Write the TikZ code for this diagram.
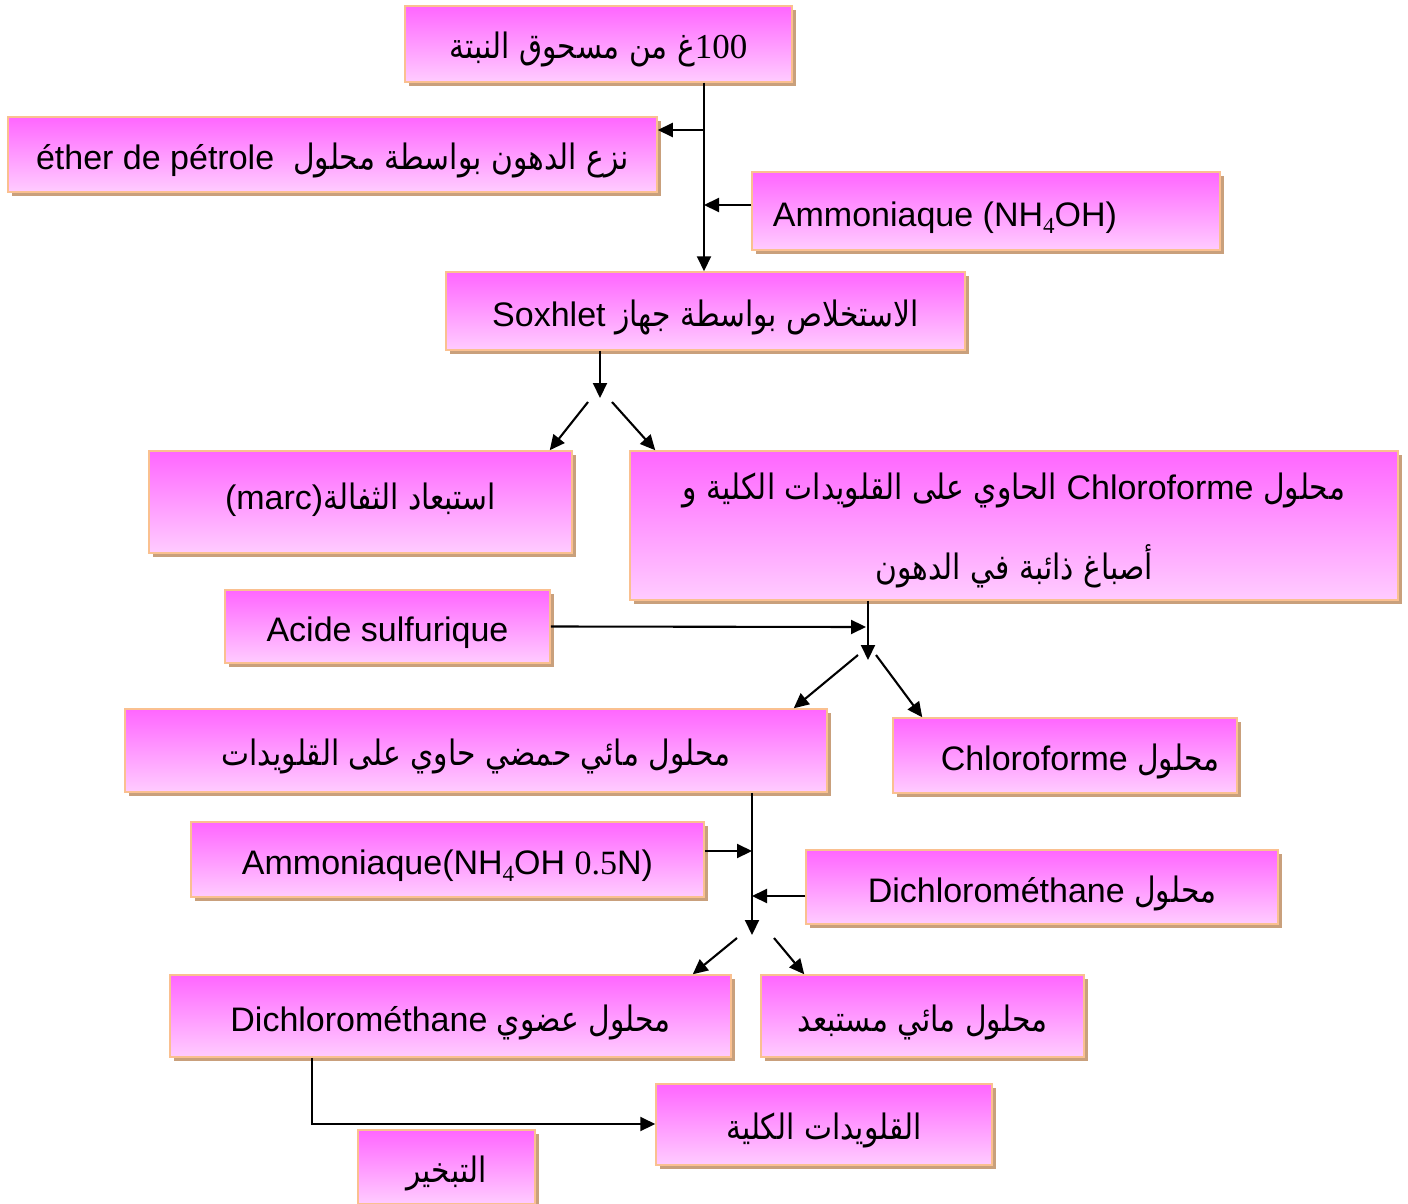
\documentclass[tikz,border=0pt]{standalone}
\usepackage{fontspec}
\setmainfont{Liberation Sans}
\newfontfamily\arabicfont[Script=Arabic,FakeStretch=0.85]{DejaVu Sans}
\newfontfamily\serifnum{Liberation Serif}
\TeXXeTstate=1
\usetikzlibrary{arrows.meta,shadows}
\definecolor{pinktop}{HTML}{FF66FF}
\definecolor{pinkbot}{HTML}{FFCCFF}
\definecolor{peach}{HTML}{FAC090}
\definecolor{shadowtan}{HTML}{C9A07C}
\newcommand{\ar}[1]{{\arabicfont\fontsize{35}{40}\selectfont #1}}
\newcommand{\subfour}{\raisebox{-7pt}{\serifnum\fontsize{23}{23}\selectfont 4}}

\begin{document}
\begin{tikzpicture}[x=1pt,y=-1pt,
  pinkbox/.style={draw=peach, line width=1.5pt, top color=pinktop, bottom color=pinkbot,
    drop shadow={shadow xshift=4pt,shadow yshift=-4pt,fill=shadowtan,opacity=1},
    inner sep=0pt, text height=30pt, text depth=0pt, font=\fontsize{34}{40}\selectfont},
  arr/.style={line width=2.1pt, -{Triangle[length=15pt,width=14pt]}}]

\useasboundingbox (0,0) rectangle (1408,1204);

% boxes
\node[pinkbox, minimum width=387, minimum height=76] (top) at (598.5,44)
  {\beginR\beginL{\serifnum\fontsize{35}{40}\selectfont 100}\endL\ar{غ من مسحوق النبتة}\endR};
\node[pinkbox, minimum width=649, minimum height=75] (ether) at (332.5,154.5)
  {\beginR\ar{نزع الدهون بواسطة محلول}\ \ \beginL éther de pétrole\endL\endR};
\node[pinkbox, minimum width=468, minimum height=78] (amm1) at (986,211)
  {Ammoniaque (NH\subfour OH)\hspace*{82pt}};
\node[pinkbox, minimum width=519, minimum height=78] (soxhlet) at (705.5,311)
  {\beginR\ar{الاستخلاص بواسطة جهاز} \beginL Soxhlet\endL\endR};
\node[pinkbox, minimum width=423, minimum height=102, text height=14pt] (marc) at (360.5,502)
  {\beginR\ar{استبعاد الثفالة}\beginL(marc)\endL\endR};
\node[pinkbox, minimum width=768, minimum height=149, align=center,
      text height=, text depth=] (chloro) at (1014,525.5)
  {\rule{0pt}{40pt}\beginR\ar{محلول} \beginL Chloroforme\endL{} \ar{الحاوي على القلويدات الكلية و}\endR\\[36pt]
   \beginR\ar{أصباغ ذائبة في الدهون}\endR\rule[-12pt]{0pt}{12pt}};
\node[pinkbox, minimum width=325, minimum height=73] (acide) at (387.5,626.5)
  {Acide sulfurique};
\node[pinkbox, minimum width=702, minimum height=83] (aqueux) at (476,750.5)
  {\beginR\ar{محلول مائي حمضي حاوي على القلويدات}\endR};
\node[pinkbox, minimum width=344, minimum height=75] (chloro2) at (1065,755.5)
  {\hspace*{30pt}\beginR\ar{محلول} \beginL Chloroforme\endL\endR};
\node[pinkbox, minimum width=513, minimum height=75] (amm2) at (447.5,859.5)
  {Ammoniaque(NH\subfour OH {\serifnum 0.5}N)};
\node[pinkbox, minimum width=472, minimum height=74] (dichloro) at (1042,887)
  {\beginR\ar{محلول} \beginL Dichlorométhane\endL\endR};
\node[pinkbox, minimum width=561, minimum height=82] (organique) at (450.5,1016)
  {\beginR\ar{محلول عضوي} \beginL Dichlorométhane\endL\endR};
\node[pinkbox, minimum width=323, minimum height=82] (rejete) at (922.5,1016)
  {\beginR\ar{محلول مائي مستبعد}\endR};
\node[pinkbox, minimum width=336, minimum height=81] (alcaloides) at (824,1124.5)
  {\beginR\ar{القلويدات الكلية}\endR};
\node[pinkbox, minimum width=177, minimum height=74] (evap) at (446.5,1167)
  {\beginR\ar{التبخير}\endR};

% first part
\coordinate (trunkA) at (704,0);
\coordinate (ja) at (704,130);
\coordinate (jb) at (704,205);
\draw[arr] (top.south -| trunkA) -- (soxhlet.north -| trunkA);
\draw[arr] (ja) -- (ether.east |- ja);
\draw[arr] (amm1.west |- jb) -- (jb);

\coordinate (sa) at (600,398);
\coordinate (sl) at (588,402);
\coordinate (sr) at (612,402);
\draw[arr] (soxhlet.south -| sa) -- (sa);
\draw[arr] (sl) -- ([xshift=-23pt]marc.north east);
\draw[arr] (sr) -- ([xshift=26pt]chloro.north west);

% acid extraction
\coordinate (ca) at (868,660);
\coordinate (cb) at (866,627);
\coordinate (cl) at (858,655);
\coordinate (cr) at (876,655);
\draw[arr] (chloro.south -| ca) -- (ca);
\draw[arr] (acide.east) -- (cb);
\draw[arr] (cl) -- ([xshift=-34pt]aqueux.north east);
\draw[arr] (cr) -- ([xshift=30pt]chloro2.north west);

% basic extraction
\coordinate (da) at (752,935);
\coordinate (db) at (752,851);
\coordinate (dc) at (752,896);
\coordinate (dl) at (737,938);
\coordinate (dr) at (774,938);
\draw[arr] (aqueux.south -| da) -- (da);
\draw[arr] (amm2.east |- db) -- (db);
\draw[arr] (dichloro.west |- dc) -- (dc);
\draw[arr] (dl) -- ([xshift=-39pt]organique.north east);
\draw[arr] (dr) -- ([xshift=44pt]rejete.north west);

\coordinate (ea) at (312,1124);
\draw[arr] (organique.south -| ea) -- (ea) -- (alcaloides.west |- ea);

\end{tikzpicture}
\end{document}
